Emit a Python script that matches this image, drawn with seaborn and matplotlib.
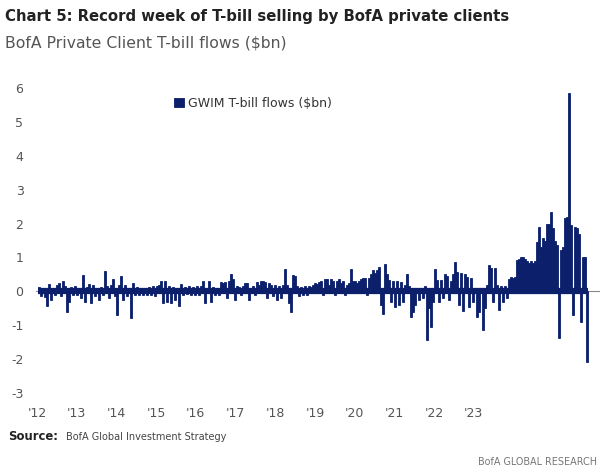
import numpy as np
import pandas as pd
import matplotlib
matplotlib.use("Agg")
import matplotlib.pyplot as plt
import seaborn as sns

# Weekly GWIM T-bill flows ($bn) left to right, grouped by label span
flows_12 = [0.12, -0.15, 0.1, -0.18, -0.42, 0.23, -0.25, 0.1, -0.12, 0.18,
            0.25, -0.15, 0.3, 0.15, -0.6, -0.3, 0.12, -0.1, 0.15, -0.12]
flows_13 = [0.1, -0.2, 0.47, -0.3, 0.12, 0.23, -0.35, 0.2, -0.15, 0.1,
            -0.25, 0.12, -0.1, 0.6, 0.15, -0.2, 0.18, 0.35, -0.15, -0.7]
flows_14 = [0.2, 0.45, -0.25, 0.2, -0.15, 0.1, -0.8, 0.25, -0.12, 0.12,
            -0.1, 0.1, -0.12, 0.08, -0.1, 0.12, -0.12, 0.15, -0.15, 0.15]
flows_15 = [0.2, 0.3, -0.33, 0.3, -0.3, 0.15, -0.33, 0.12, -0.25, 0.1,
            -0.42, 0.23, -0.1, 0.12, -0.08, 0.15, -0.1, 0.12, -0.1, 0.15]
flows_16 = [-0.1, 0.15, 0.3, -0.33, 0.1, 0.3, -0.3, 0.12, -0.1, 0.1,
            -0.12, 0.27, 0.25, 0.27, -0.2, 0.3, 0.52, 0.35, -0.25, 0.15]
flows_17 = [0.12, -0.1, 0.15, 0.25, 0.25, -0.25, 0.1, 0.15, -0.1, 0.27,
            0.2, 0.3, 0.3, 0.27, -0.2, 0.25, 0.2, -0.15, 0.2, -0.27]
flows_18 = [0.15, -0.2, 0.2, 0.67, 0.2, -0.33, -0.6, 0.47, 0.45, 0.15,
            -0.15, 0.12, -0.12, 0.15, -0.1, 0.15, 0.12, 0.2, 0.25, 0.22]
flows_19 = [0.28, 0.3, -0.1, 0.37, 0.35, 0.2, 0.37, 0.3, -0.12, 0.3,
            0.35, 0.25, 0.3, -0.1, 0.2, 0.25, 0.67, 0.3, 0.3, 0.25]
flows_20 = [0.3, 0.35, 0.4, 0.38, -0.12, 0.4, 0.5, 0.62, 0.55, 0.62,
            0.72, -0.4, -0.66, 0.82, 0.5, 0.33, -0.3, 0.3, -0.45, 0.3]
flows_21 = [-0.4, 0.28, -0.3, 0.2, 0.5, 0.15, -0.75, -0.6, -0.4, 0.1,
            -0.27, 0.1, -0.2, 0.15, -1.45, -0.5, -1.05, -0.3, 0.67, 0.33]
flows_22 = [-0.3, 0.33, -0.2, 0.5, 0.45, -0.25, 0.3, 0.5, 0.87, 0.57,
            -0.4, 0.55, -0.57, 0.5, 0.43, -0.45, 0.4, -0.3, 0.1, -0.75]
flows_23 = [-0.6, 0.1, -1.15, -0.5, 0.2, 0.77, 0.7, -0.3, 0.7, 0.2,
            -0.55, 0.15, -0.3, 0.15, -0.2, 0.35, 0.43, 0.4, 0.43, 0.92]
flows_24 = [0.95, 1.02, 1.0, 0.95, 0.9, 0.85, 0.9, 0.85, 0.9, 1.45,
            1.9, 1.3, 1.57, 1.5, 2.0, 2.0, 2.35, 1.87, 1.5, 1.38]
flows_25 = [-1.38, 1.23, 1.3, 2.15, 2.2, 5.84, 1.96, -0.7, 1.9, 1.87,
            1.68, -0.9, 1.0, 1.0, -2.08]

year_labels = ["'12", "'13", "'14", "'15", "'16", "'17", "'18", "'19", "'20", "'21", "'22", "'23"]
y_ticks = [-3, -2, -1, 0, 1, 2, 3, 4, 5, 6]

flows = (flows_12 + flows_13 + flows_14 + flows_15 + flows_16 + flows_17 + flows_18
         + flows_19 + flows_20 + flows_21 + flows_22 + flows_23 + flows_24 + flows_25)
df = pd.DataFrame({"week": np.arange(len(flows)), "flow": flows})

navy = "#0c1f6b"
grey = "#555555"

sns.set_style("white")
plt.rcParams["font.family"] = ["DejaVu Sans"]

fig = plt.figure(figsize=(6, 4.72), dpi=100)
ax = fig.add_axes([36 / 600, 79 / 472, 564 / 600, 305 / 472])

sns.barplot(data=df, x="week", y="flow", native_scale=True, color=navy, saturation=1,
            width=1, linewidth=0.6, edgecolor=navy, errorbar=None,
            label="GWIM T-bill flows ($bn)", ax=ax)
ax.axhline(0, color="#8a8a8a", lw=0.8, zorder=0.5)
# dense weekly bars merge into a solid band around zero
ax.hlines(0, -0.5, len(flows) - 0.5, color=navy, lw=4.5, zorder=3)

ax.set_xlim(-1.5, 280.5)
ax.set_ylim(-3, 6)
ax.set_yticks(y_ticks)
ax.set_yticklabels([str(t) for t in y_ticks])
ax.set_xticks(-1 + 19.85 * np.arange(len(year_labels)))
ax.set_xticklabels(year_labels)
ax.tick_params(axis="both", length=0, labelsize=9, labelcolor=grey)
ax.tick_params(axis="y", pad=9)
ax.tick_params(axis="x", pad=10)
for s in ax.spines.values():
    s.set_visible(False)
ax.set_xlabel("")
ax.set_ylabel("")

leg = ax.legend(loc="upper left", bbox_to_anchor=(174 / 600, 375 / 472), bbox_transform=fig.transFigure,
                frameon=False, fontsize=9, handlelength=0.8, handleheight=0.8, handletextpad=0.35,
                borderaxespad=0, borderpad=0)
for t in leg.get_texts():
    t.set_color("#333333")

renderer = fig.canvas.get_renderer()


def fit(t, width_px):
    # scale a text so it spans the same width as in the reference
    w = t.get_window_extent(renderer).width
    t.set_fontsize(t.get_fontsize() * width_px / w)
    return t


fit(fig.text(5 / 600, 1 - 17 / 472, "Chart 5: Record week of T-bill selling by BofA private clients",
             fontsize=12, fontweight="bold", color="#222222", va="center"), 505)
fit(fig.text(5 / 600, 1 - 43 / 472, "BofA Private Client T-bill flows ($bn)",
             fontsize=12, color="#555555", va="center"), 280)
src = fit(fig.text(8 / 600, 1 - 437 / 472, "Source:", fontsize=8, fontweight="bold",
                   color="#222222", va="center"), 50)
fit(fig.text(66 / 600, 1 - 437 / 472, "BofA Global Investment Strategy", fontsize=8,
             color="#444444", va="center"), 161)
fit(fig.text(597 / 600, 1 - 462 / 472, "BofA GLOBAL RESEARCH", fontsize=8, color="#777777",
             va="center", ha="right"), 119)

plt.savefig("out.png", dpi=100, facecolor="white")
